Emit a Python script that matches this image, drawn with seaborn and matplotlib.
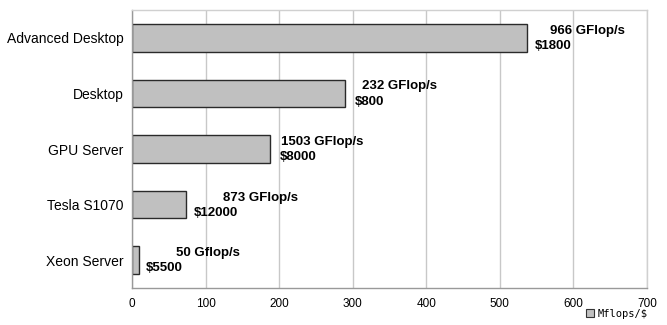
import matplotlib
matplotlib.use("Agg")
import matplotlib.pyplot as plt
from matplotlib.patches import Patch
import seaborn as sns
import pandas as pd

# Price/performance of each system
systems = ["Advanced Desktop", "Desktop", "GPU Server", "Tesla S1070", "Xeon Server"]
gflops = [966, 232, 1503, 873, 50]
prices = [1800, 800, 8000, 12000, 5500]
perf_labels = ["966 GFlop/s", "232 GFlop/s", "1503 GFlop/s", "873 GFlop/s", "50 Gflop/s"]
price_labels = ["$1800", "$800", "$8000", "$12000", "$5500"]
mflops_per_dollar = [g * 1000 / p for g, p in zip(gflops, prices)]
x_ticks = [0, 100, 200, 300, 400, 500, 600, 700]

df = pd.DataFrame({"system": systems, "Mflops/$": mflops_per_dollar})

sns.set_theme(style="white")
plt.rcParams["font.family"] = ["Liberation Sans", "DejaVu Sans"]
plt.rcParams["text.color"] = "black"
plt.rcParams["xtick.labelcolor"] = "black"
plt.rcParams["ytick.labelcolor"] = "black"

fig = plt.figure(figsize=(6.67, 3.25), dpi=100)
ax = fig.add_axes([0.198, 0.114, 0.772, 0.855])

sns.barplot(data=df, y="system", x="Mflops/$", orient="h", color="#c0c0c0",
            saturation=1, edgecolor="#2a2a2a", linewidth=1.0, width=0.5, ax=ax)

ax.set_xlim(0, 700)
ax.set_ylim(4.5, -0.5)
ax.set_xticks(x_ticks)
ax.set_xticklabels([str(t) for t in x_ticks], fontsize=8.5)
ax.set_yticks(range(len(systems)))
ax.set_yticklabels(systems, fontsize=10)
ax.set_xlabel("")
ax.set_ylabel("")

# vertical grid lines behind the bars
ax.set_axisbelow(True)
ax.xaxis.grid(True, color="#c8c8c8", linewidth=1)
ax.yaxis.grid(False)

# spines
for side in ["top", "right"]:
    ax.spines[side].set_color("#d0d0d0")
    ax.spines[side].set_linewidth(1)
for side in ["left", "bottom"]:
    ax.spines[side].set_color("#999999")
    ax.spines[side].set_linewidth(1)

# tick marks: major on x, category separators on y
ax.tick_params(axis="x", which="major", length=4, width=1, color="#999999",
               direction="out", pad=3, labelcolor="black")
ax.tick_params(axis="y", which="major", length=0, pad=6, labelcolor="black")
ax.set_yticks([i + 0.5 for i in range(-1, len(systems))], minor=True)
ax.tick_params(axis="y", which="minor", length=4, width=1, color="#999999", direction="out")

# two-line value annotations beside each bar (offsets in points)
line1_dx = [17, 12, 8, 27, 27]
line2_dx = [6, 7, 7, 6, 5]
for i, v in enumerate(mflops_per_dollar):
    ax.annotate(perf_labels[i], xy=(v, i), xytext=(line1_dx[i], 5),
                textcoords="offset points", ha="left", va="center",
                fontsize=9.5, fontweight="bold", color="black")
    ax.annotate(price_labels[i], xy=(v, i), xytext=(line2_dx[i], -6),
                textcoords="offset points", ha="left", va="center",
                fontsize=9.5, fontweight="bold", color="black")

# legend
handle = Patch(facecolor="#c0c0c0", edgecolor="#333333", linewidth=0.8, label="Mflops/$")
leg = fig.legend(handles=[handle], loc="lower right", bbox_to_anchor=(0.985, -0.01),
                 frameon=False, handlelength=0.8, handleheight=0.8, handletextpad=0.3,
                 prop={"family": "DejaVu Sans Mono", "size": 7.5})

fig.savefig("out.png", dpi=100)
